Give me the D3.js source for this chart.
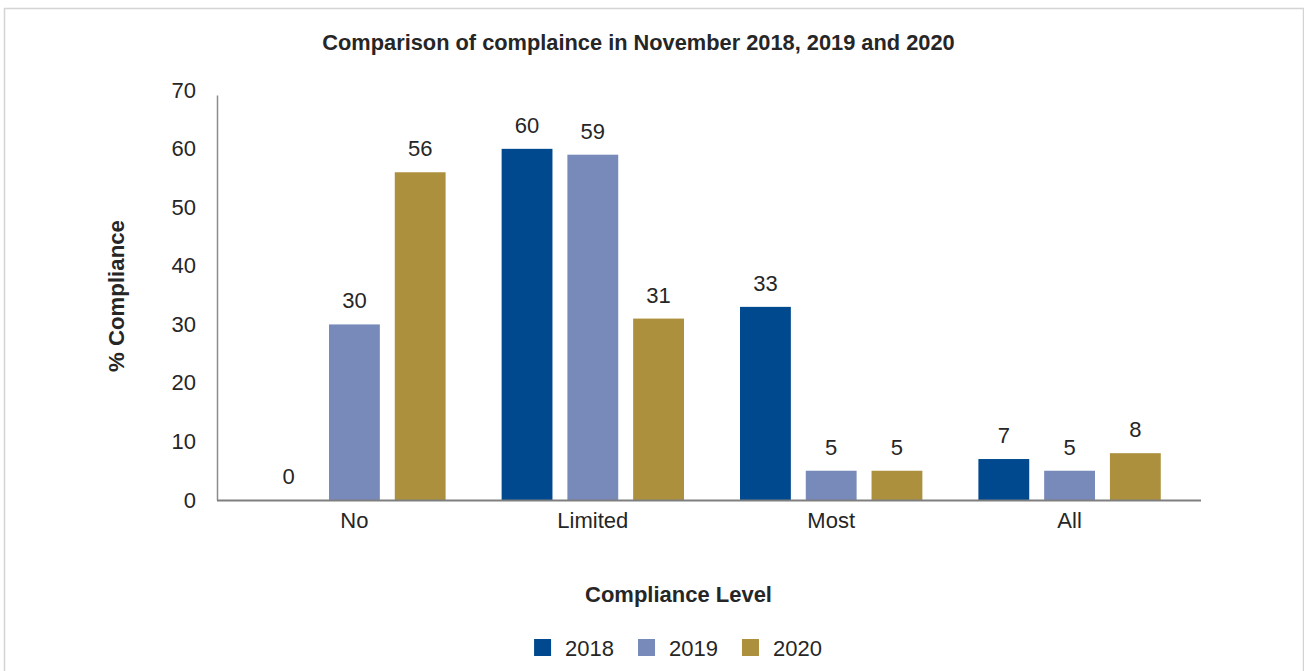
<!DOCTYPE html>
<html>
<head>
<meta charset="utf-8">
<script src="https://cdn.jsdelivr.net/npm/d3@7"></script>
<style>
  html, body { margin: 0; padding: 0; background: #ffffff; }
  svg { display: block; }
  text { font-family: "Liberation Sans", Arial, sans-serif; fill: #262626; }
</style>
</head>
<body>
<svg id="chart" width="1304" height="671"></svg>
<script>
// Compliance levels and share of compliance (%) per year
const categories = ["No", "Limited", "Most", "All"];
const years = ["2018", "2019", "2020"];
const values2018 = [0, 60, 33, 7];
const values2019 = [30, 59, 5, 5];
const values2020 = [56, 31, 5, 8];
const yTickValues = [0, 10, 20, 30, 40, 50, 60, 70];
const yearColors = ["#00498E", "#788ABA", "#AD903E"];

const titleText = "Comparison of complaince in November 2018, 2019 and 2020";
const yTitleText = "% Compliance";
const xTitleText = "Compliance Level";

const seriesByYear = [values2018, values2019, values2020];
const rows = categories.map((c, i) => ({
  category: c,
  values: years.map((y, j) => ({ year: y, value: seriesByYear[j][i] }))
}));

const svg = d3.select("#chart");
const W = 1304, H = 671;
const labelSize = "22px";

// Outer frame
svg.append("rect")
  .attr("x", 4.5).attr("y", 8.5)
  .attr("width", W - 5).attr("height", H + 20)
  .attr("fill", "#ffffff")
  .attr("stroke", "#d4d4d4").attr("stroke-width", 1.5);

const plot = { left: 217, right: 1201, top: 95, bottom: 500 };

const x = d3.scaleBand()
  .domain(categories)
  .range([plot.left + 5, plot.right + 1])
  .paddingInner(0.235)
  .paddingOuter(0.173);

const xInner = d3.scaleBand()
  .domain(years)
  .range([0, x.bandwidth()])
  .paddingInner(0.227);

const y = d3.scaleLinear()
  .domain([0, 69.2])
  .range([plot.bottom, plot.top]);

const color = d3.scaleOrdinal().domain(years).range(yearColors);

// Y axis: line plus tick labels, no tick marks
const yAxis = svg.append("g")
  .attr("transform", `translate(${plot.left},0)`)
  .call(d3.axisLeft(y).tickValues(yTickValues).tickSize(0).tickPadding(21));
yAxis.select(".domain").attr("stroke", "#8c8c8c").attr("stroke-width", 1.5);
yAxis.selectAll("text")
  .style("font-family", "\"Liberation Sans\", Arial, sans-serif")
  .style("font-size", labelSize)
  .attr("fill", "#262626");

// Bars
const groups = svg.append("g").selectAll("g")
  .data(rows)
  .join("g")
  .attr("transform", d => `translate(${x(d.category)},0)`);

groups.selectAll("rect")
  .data(d => d.values)
  .join("rect")
  .attr("x", d => xInner(d.year))
  .attr("y", d => y(d.value))
  .attr("width", xInner.bandwidth())
  .attr("height", d => y(0) - y(d.value))
  .attr("fill", d => color(d.year));

// Value labels above bars
groups.selectAll("text.value")
  .data(d => d.values)
  .join("text")
  .attr("class", "value")
  .attr("x", d => xInner(d.year) + xInner.bandwidth() / 2)
  .attr("y", d => y(d.value) - 16)
  .attr("text-anchor", "middle")
  .style("font-size", labelSize)
  .text(d => d.value);

// X axis: baseline and category labels
const xAxis = svg.append("g")
  .attr("transform", `translate(0,${plot.bottom})`)
  .call(d3.axisBottom(x).tickSize(0).tickPadding(12).tickSizeOuter(0));
xAxis.select(".domain")
  .attr("d", `M${plot.left},0.5H${plot.right}`)
  .attr("stroke", "#7f7f7f").attr("stroke-width", 2);
xAxis.selectAll("text")
  .style("font-family", "\"Liberation Sans\", Arial, sans-serif")
  .style("font-size", labelSize)
  .attr("fill", "#262626");

// Scale a text's font size so that it spans a given width
function fitWidth(sel, width) {
  const base = parseFloat(sel.style("font-size"));
  const w = sel.node().getComputedTextLength();
  sel.style("font-size", (base * width / w) + "px");
}

// Title
const title = svg.append("text")
  .attr("x", 638.5).attr("y", 50)
  .attr("text-anchor", "middle")
  .style("font-size", "20px").style("font-weight", "bold")
  .attr("fill", "#1f1f1f")
  .text(titleText);
fitWidth(title, 633);

// Y axis title
const yTitle = svg.append("text")
  .attr("transform", "translate(124,296) rotate(-90)")
  .attr("text-anchor", "middle")
  .style("font-size", "20px").style("font-weight", "bold")
  .attr("fill", "#1f1f1f")
  .text(yTitleText);
fitWidth(yTitle, 152);

// X axis title
const xTitle = svg.append("text")
  .attr("x", 678.5).attr("y", 602)
  .attr("text-anchor", "middle")
  .style("font-size", "20px").style("font-weight", "bold")
  .attr("fill", "#1f1f1f")
  .text(xTitleText);
fitWidth(xTitle, 187);

// Legend, centred below the axis title
const legend = svg.append("g");
const items = legend.selectAll("g")
  .data(years)
  .join("g");
items.append("rect")
  .attr("width", 17).attr("height", 17)
  .attr("y", 639)
  .attr("fill", d => color(d));
items.append("text")
  .attr("x", 31).attr("y", 656)
  .style("font-size", labelSize)
  .text(d => d);
let cursor = 0;
const offsets = [];
items.each(function () {
  const tw = d3.select(this).select("text").node().getComputedTextLength();
  offsets.push(cursor);
  cursor += 31 + tw + 24;
});
const legendWidth = cursor - 24;
const legendStart = 678 - legendWidth / 2;
items.attr("transform", (d, i) => `translate(${legendStart + offsets[i]},0)`);
</script>
</body>
</html>
